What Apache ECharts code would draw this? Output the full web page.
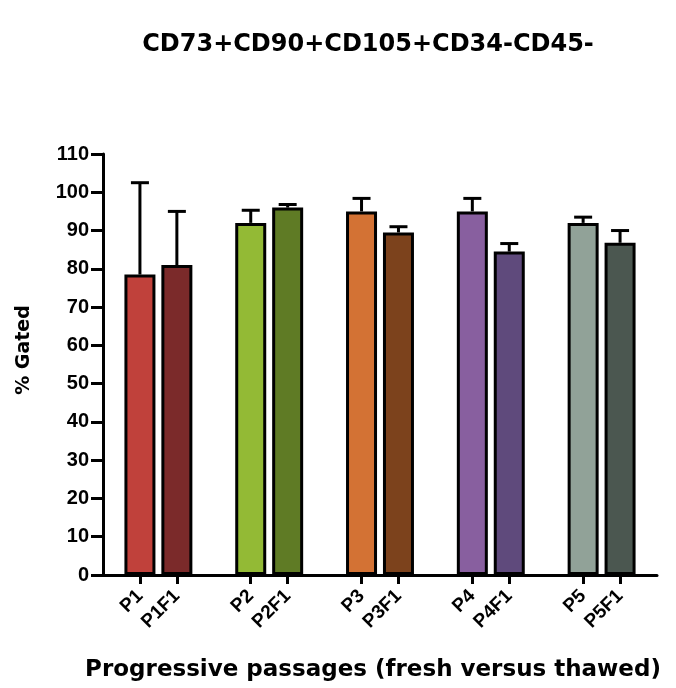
<!DOCTYPE html>
<html>
<head>
<meta charset="utf-8">
<script src="https://cdn.jsdelivr.net/npm/echarts@6/dist/echarts.min.js"></script>
<style>html,body{margin:0;padding:0;background:#fff}#c{width:676px;height:688px}</style>
</head>
<body>
<div id="c"></div>
<script>
const labels = ['P1','P1F1','P2','P2F1','P3','P3F1','P4','P4F1','P5','P5F1'];
const values = [78.5, 81, 92, 96, 95, 89.5, 95, 84.5, 92, 86.8];
const errors = [24, 14, 3.3, 0.8, 3.4, 1.5, 3.4, 2.1, 1.5, 3.2];
const colors = ['#c0413b','#7b2a2a','#93ba35','#5f7b25','#d37234','#7c421c','#885f9f','#5f4a7c','#91a298','#4b5750'];
const yTicks = [0,10,20,30,40,50,60,70,80,90,100,110];

// build padded category axis: blank slot before each pair and at the end
const cats = [], barData = [], errData = [];
labels.forEach((l, i) => {
  if (i % 2 === 0) { cats.push(''); barData.push(null); }
  cats.push(l);
  barData.push({ value: values[i], itemStyle: { color: colors[i] } });
  errData.push([cats.length - 1, values[i], values[i] + errors[i]]);
});
cats.push(''); barData.push(null);

const chart = echarts.init(document.getElementById('c'), null, { renderer: 'canvas' });
chart.setOption({
  animation: false,
  title: {
    text: 'CD73+CD90+CD105+CD34-CD45-',
    left: 363, top: 28, textAlign: 'center',
    textStyle: { fontFamily: 'DejaVu Sans', fontWeight: 'bold', fontSize: 24, color: '#000' }
  },
  graphic: [{
    type: 'text', x: 24, y: 350, rotation: Math.PI / 2,
    style: { text: '% Gated', fontFamily: 'DejaVu Sans', fontWeight: 'bold', fontSize: 19, fill: '#000',
      textAlign: 'center', textVerticalAlign: 'middle' }
  }],
  grid: { left: 103, right: 19, top: 154, bottom: 113, containLabel: false },
  xAxis: {
    type: 'category',
    data: cats,
    boundaryGap: false,
    name: 'Progressive passages (fresh versus thawed)',
    nameLocation: 'middle',
    nameGap: 84,
    nameTextStyle: { fontFamily: 'DejaVu Sans', fontWeight: 'bold', fontSize: 23, color: '#000', padding: [0, 14, 0, 0] },
    axisLine: { lineStyle: { color: '#000', width: 3 } },
    axisTick: { show: true, length: 9, lineStyle: { color: '#000', width: 3 },
      interval: (idx, val) => val !== '' },
    axisLabel: { rotate: 45, interval: (idx, val) => val !== '', margin: 18,
      fontFamily: 'Liberation Sans', fontWeight: 'bold', fontSize: 19, color: '#000' },
    splitLine: { show: false }
  },
  yAxis: {
    type: 'value', min: yTicks[0], max: yTicks[yTicks.length - 1], interval: 10,
    axisLine: { show: true, lineStyle: { color: '#000', width: 3 } },
    axisTick: { show: true, length: 12, lineStyle: { color: '#000', width: 3 } },
    axisLabel: { margin: 14, fontFamily: 'Liberation Sans', fontWeight: 'bold', fontSize: 20, color: '#000' },
    splitLine: { show: false }
  },
  series: [
    {
      type: 'custom',
      z: 1,
      renderItem: function (params, api) {
        const x = api.value(0);
        const lo = api.coord([x, api.value(1)]);
        const hi = api.coord([x, api.value(2)]);
        const hw = 9;
        return {
          type: 'group',
          children: [
            { type: 'line', shape: { x1: lo[0], y1: lo[1], x2: hi[0], y2: hi[1] }, style: { stroke: '#000', lineWidth: 3 } },
            { type: 'line', shape: { x1: hi[0] - hw, y1: hi[1], x2: hi[0] + hw, y2: hi[1] }, style: { stroke: '#000', lineWidth: 3 } }
          ]
        };
      },
      encode: { x: 0, y: [1, 2] },
      data: errData
    },
    {
      type: 'bar',
      z: 2,
      barWidth: 31,
      data: barData,
      itemStyle: { borderColor: '#000', borderWidth: 3 }
    }
  ]
});
</script>
</body>
</html>
